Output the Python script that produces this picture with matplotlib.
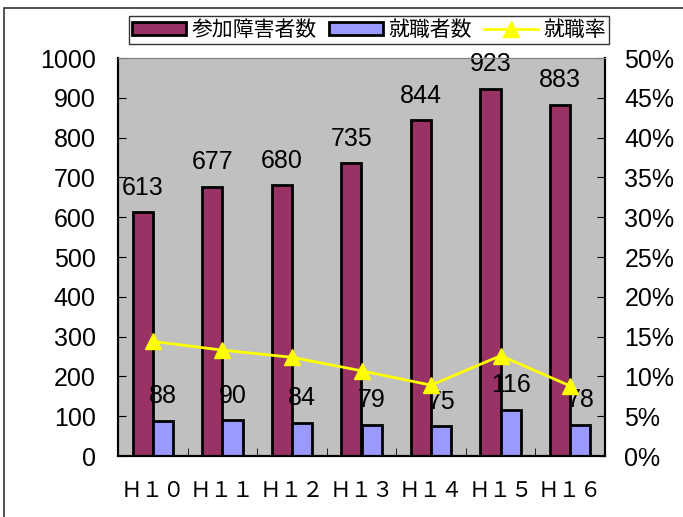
import matplotlib.pyplot as plt
from matplotlib.patches import Rectangle
from matplotlib.lines import Line2D

plt.rcParams['font.family'] = ['Liberation Sans', 'Noto Sans CJK JP', 'DejaVu Sans']

years = ['Ｈ１０', 'Ｈ１１', 'Ｈ１２', 'Ｈ１３', 'Ｈ１４', 'Ｈ１５', 'Ｈ１６']
participants = [613, 677, 680, 735, 844, 923, 883]
employed = [88, 90, 84, 79, 75, 116, 78]
rate = [14.4, 13.3, 12.4, 10.7, 8.9, 12.6, 8.8]

fig = plt.figure(figsize=(6.83, 5.17), dpi=100)
ax = fig.add_axes([118 / 683, 1 - 456 / 517, 487 / 683, 398 / 517])
ax.set_facecolor('#c0c0c0')

# frame around the whole chart (only top/left visible in the original)
fig.patches.append(Rectangle((4 / 683, -0.1), 1.1, 1 - 8 / 517 + 0.1,
                             transform=fig.transFigure, fill=False,
                             edgecolor='#333333', linewidth=1.2))

x = list(range(len(years)))
w = 0.29
ax.bar([i - w / 2 for i in x], participants, w, color='#993366',
       edgecolor='black', linewidth=2, zorder=2)
ax.bar([i + w / 2 for i in x], employed, w, color='#9999ff',
       edgecolor='black', linewidth=2, zorder=2)

for i in x:
    ax.annotate(str(participants[i]), (i - w / 2, participants[i]),
                xytext=(0, 9), textcoords='offset points', ha='center',
                va='bottom', fontsize=18)
    ax.annotate(str(employed[i]), (i + w / 2, employed[i]),
                xytext=(0, 9), textcoords='offset points', ha='center',
                va='bottom', fontsize=18)

ax.set_xlim(-0.5, len(years) - 0.5)
ax.set_ylim(0, 1000)
ax.set_yticks(range(0, 1001, 100))
ax.tick_params(axis='y', direction='in', length=6, labelsize=18, pad=16)
ax.set_xticks([i + 0.5 for i in x[:-1]], minor=True)
ax.set_xticks(x)
ax.set_xticklabels(years, family=['Noto Sans CJK JP'], fontsize=15.5)
ax.tick_params(axis='x', which='major', length=0, pad=17)
ax.tick_params(axis='x', which='minor', direction='in', length=6)

ax2 = ax.twinx()
ax2.plot(x, rate, color='yellow', linewidth=2, marker='^', markersize=12,
         zorder=3)
ax2.set_ylim(0, 50)
ax2.set_yticks(range(0, 51, 5))
ax2.set_yticklabels([f'{v}%' for v in range(0, 51, 5)])
ax2.tick_params(axis='y', direction='in', length=6, labelsize=18, pad=14)

for a in (ax, ax2):
    a.spines['top'].set_color('#808080')
    a.spines['left'].set_linewidth(1.5)
    a.spines['right'].set_linewidth(1.5)
    a.spines['bottom'].set_linewidth(1.5)

handles = [Rectangle((0, 0), 1, 1, facecolor='#993366', edgecolor='black', linewidth=2),
           Rectangle((0, 0), 1, 1, facecolor='#9999ff', edgecolor='black', linewidth=2),
           Line2D([], [], color='yellow', linewidth=2, marker='^', markersize=12)]
leg = fig.legend(handles, ['参加障害者数', '就職者数', '就職率'],
                 loc='center', bbox_to_anchor=(369 / 683, 1 - 30 / 517),
                 ncol=3, frameon=True, fancybox=False,
                 edgecolor='black', handlelength=2.6, handleheight=0.6,
                 borderpad=0.15, columnspacing=0.6, handletextpad=0.25,
                 borderaxespad=0,
                 prop={'family': ['Noto Sans CJK JP'], 'size': 15})
leg.get_frame().set_linewidth(1)

fig.savefig('out.png', dpi=100)
